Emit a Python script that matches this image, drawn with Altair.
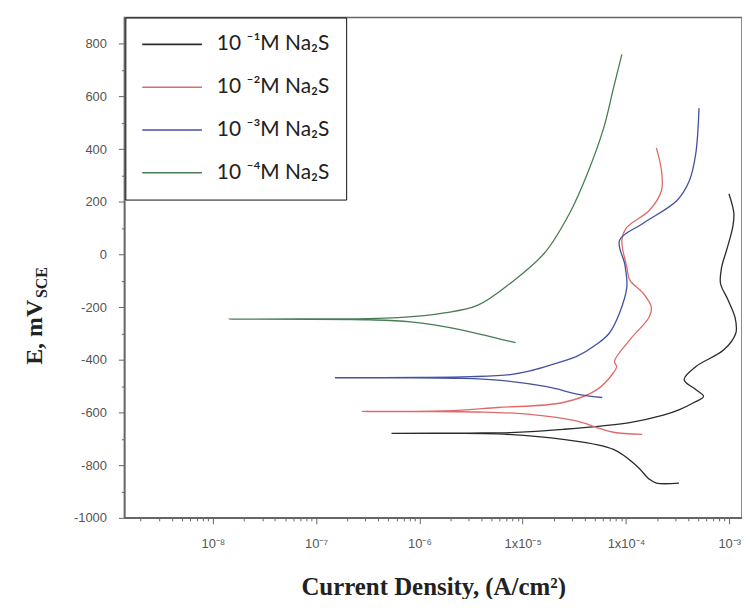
import math
import altair as alt
import pandas as pd

series_names = ["10 ⁻¹M Na₂S", "10 ⁻²M Na₂S", "10 ⁻³M Na₂S", "10 ⁻⁴M Na₂S"]
series_colors = ["#2b2b2b", "#e06a6a", "#44519e", "#467d55"]

# 10^-1 M  (cathodic end -> Ecorr tip -> anodic end)
cur_1 = [3.26e-4, 1.97e-4, 1.68e-4, 1.28e-4, 7.57e-5, 2.46e-5, 5.7e-6, 1.57e-6, 5.37e-7,
         3.11e-6, 7.6e-6, 2.46e-5, 1.09e-4, 2.3e-4, 3.3e-4, 4.56e-4, 5.64e-4, 4.74e-4, 3.66e-4,
         4.74e-4, 8.87e-4, 1.16e-3, 1.14e-3, 9.67e-4, 8.24e-4, 8.43e-4, 9.49e-4, 1.08e-3,
         1.11e-3, 9.94e-4]
pot_1 = [-868, -868, -853, -804, -740, -702, -681, -679, -679,
         -678, -676, -664, -638, -610, -589, -562, -539, -513, -475,
         -426, -362, -298, -240, -170, -110, -50, 20, 103,
         156, 231]

# 10^-2 M
cur_2 = [1.44e-4, 7.57e-5, 5.25e-5, 3.3e-5, 1.18e-5, 3.69e-6, 9.87e-7, 2.81e-7,
         1.57e-6, 5.7e-6, 2.46e-5, 5.25e-5, 7.57e-5, 8.12e-5, 7.75e-5, 1.09e-4, 1.68e-4,
         1.76e-4, 1.46e-4, 1.09e-4, 1.02e-4, 9.13e-5, 1.02e-4, 1.68e-4, 2.21e-4, 2.21e-4,
         1.97e-4]
pot_2 = [-683, -675, -657, -632, -607, -598, -596, -596,
         -595, -581, -562, -513, -449, -426, -405, -324, -237,
         -199, -146, -97, -48, 54, 103, 167, 243, 318,
         405]

# 10^-3 M
cur_3 = [5.9e-5, 3.58e-5, 1.71e-5, 5.7e-6, 2.44e-6, 6.25e-7, 1.52e-7,
         9.87e-7, 3.11e-6, 7.6e-6, 1.18e-5, 2.46e-5, 3.3e-5, 5.25e-5, 6.92e-5, 8.67e-5,
         1.02e-4, 9.78e-5, 8.67e-5, 1.46e-4, 3.12e-4, 4.11e-4, 4.74e-4, 5.1e-4]
pot_3 = [-543, -532, -502, -477, -470, -468, -468,
         -467, -464, -456, -442, -405, -388, -340, -298, -222,
         -124, -40, 54, 118, 205, 280, 382, 556]

# 10^-4 M
cur_4 = [8.54e-6, 5.32e-6, 2.54e-6, 8.21e-7, 3.2e-7, 1.44e-8,
         2.51e-7, 6.25e-7, 1.74e-6, 3.69e-6, 7.6e-6, 1.62e-5, 2.84e-5, 4.23e-5, 6.09e-5,
         7.57e-5, 9.13e-5]
pot_4 = [-335, -316, -286, -256, -248, -245,
         -244, -240, -222, -192, -109, 5, 156, 307, 481,
         632, 760]

x_major = [1e-8, 1e-7, 1e-6, 1e-5, 1e-4, 1e-3]
x_major_labels = ["10⁻⁸", "10⁻⁷", "10⁻⁶", "1x10⁻⁵", "1x10⁻⁴", "10⁻³"]
x_domain = [1.39e-9, 1.33e-3]
x_minor = [k * 10.0 ** d for d in range(-9, -2) for k in range(2, 10)
           if x_domain[0] <= k * 10.0 ** d <= x_domain[1]]
y_major = [-1000, -800, -600, -400, -200, 0, 200, 400, 600, 800]
y_minor = [-900, -700, -500, -300, -100, 100, 300, 500, 700]

rows = []
for name, cs, ps in zip(series_names, [cur_1, cur_2, cur_3, cur_4], [pot_1, pot_2, pot_3, pot_4]):
    for i, (c, p) in enumerate(zip(cs, ps)):
        rows.append({"series": name, "current": c, "E": p, "idx": i})
df = pd.DataFrame(rows)

# label expression for the major x ticks
expr = "''"
for v, lab in reversed(list(zip(x_major, x_major_labels))):
    expr = f"abs(log(datum.value)/LN10 - ({round(math.log10(v))})) < 0.1 ? '{lab}' : ({expr})"

AX = "#666666"
xscale = alt.Scale(type="log", domain=x_domain, nice=False)
yscale = alt.Scale(domain=[-1000, 900], nice=False, zero=False)

main = alt.Chart(df).mark_line(strokeWidth=1.3, interpolate="catmull-rom").encode(
    x=alt.X("current:Q", scale=xscale,
            axis=alt.Axis(orient="bottom", values=x_major, labelExpr=expr,
                          title="Current Density, (A/cm²)", titleFont="Liberation Serif",
                          titleFontSize=25, titleFontWeight="bold", titleColor="#222",
                          titleY=69, titleBaseline="middle",
                          labelFont="Liberation Sans", labelFontSize=13, labelColor="#555",
                          labelPadding=14, tickSize=6, tickColor=AX, domainColor=AX,
                          domainWidth=1.5, grid=False)),
    y=alt.Y("E:Q", scale=yscale,
            axis=alt.Axis(orient="left", values=y_major, labelExpr="'' + datum.value",
                          title="E, mV", titleFont="Liberation Serif", titleFontSize=24,
                          titleFontWeight="bold", titleColor="#222", titleX=-90, titleY=316,
                          titleAlign="center", titleBaseline="middle",
                          labelFont="Liberation Sans", labelFontSize=13, labelColor="#555",
                          labelPadding=12, tickSize=6, tickColor=AX, domainColor=AX,
                          domainWidth=1.5, grid=False)),
    color=alt.Color("series:N", scale=alt.Scale(domain=series_names, range=series_colors),
                    legend=alt.Legend(orient="none", legendX=1, legendY=0, title=None,
                                      padding=16, strokeColor="#111", fillColor="white",
                                      symbolType="stroke", symbolSize=3600,
                                      symbolStrokeWidth=1.6, clipHeight=22, rowPadding=21,
                                      labelOffset=14, labelFont="Lato", labelFontSize=21,
                                      labelColor="#222")),
    order=alt.Order("idx:Q"),
)

minor = alt.Chart(df).mark_point(opacity=0, size=1).encode(
    x=alt.X("current:Q", scale=xscale,
            axis=alt.Axis(orient="bottom", values=x_minor, labels=False, tickSize=3,
                          tickColor=AX, domain=False, grid=False, title=None)),
    y=alt.Y("E:Q", scale=yscale,
            axis=alt.Axis(orient="left", values=y_minor, labels=False, tickSize=3,
                          tickColor=AX, domain=False, grid=False, title="SCE",
                          titleFont="Liberation Serif", titleFontSize=16,
                          titleFontWeight="bold", titleColor="#222", titleX=-83,
                          titleY=266, titleAlign="center", titleBaseline="middle")),
)

chart = alt.layer(main, minor).resolve_axis(x="independent", y="independent").properties(
    width=621, height=503,
    autosize=alt.AutoSizeParams(type="none"),
    padding={"left": 117, "top": 8, "right": 0, "bottom": 80},
    background="white",
).configure_view(stroke="#666666", strokeWidth=1.5)

chart.save("out.html", embed_options={"renderer": "svg", "actions": False})
